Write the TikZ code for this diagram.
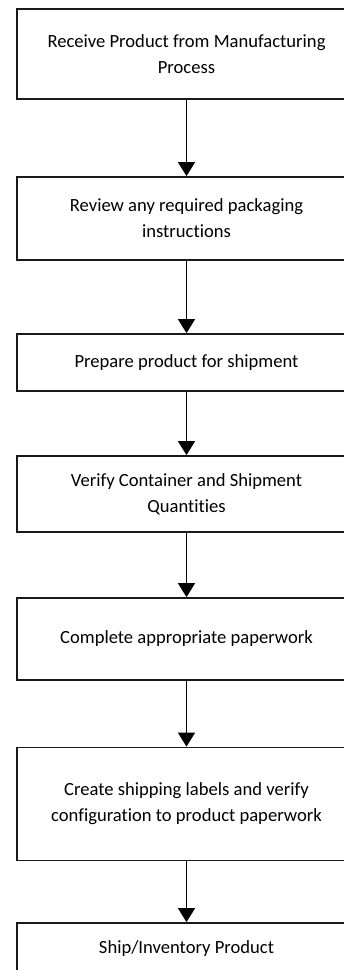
\documentclass[tikz,border=0pt]{standalone}
\usepackage{fontspec}
\setmainfont[Ligatures={NoCommon}]{Carlito}
\usetikzlibrary{arrows.meta}
\begin{document}
\begin{tikzpicture}[x=1pt,y=-1pt,
  stepbox/.style={draw=black!90,line width=1.8pt,rectangle,minimum width=339pt,inner sep=0pt,
    align=center,font=\fontsize{18.6}{26}\selectfont},
  flow/.style={line width=1.6pt,-{Triangle[width=17pt,length=14pt]}}]
\path[use as bounding box,clip] (0,0) rectangle (344,970);
\node[stepbox,minimum height=90pt] (b1) at (186.5,54) {Receive Product from Manufacturing\\Process};
\node[stepbox,minimum height=83pt] (b2) at (186.5,218.5) {Review any required packaging\\instructions};
\node[stepbox,minimum height=57pt] (b3) at (186.5,362.5) {Prepare product for shipment};
\node[stepbox,minimum height=76pt] (b4) at (186.5,494) {Verify Container and Shipment\\Quantities};
\node[stepbox,minimum height=82pt] (b5) at (186.5,639) {Complete appropriate paperwork};
\node[stepbox,minimum height=113pt] (b6) at (186.5,804) {Create shipping labels and verify\\configuration to product paperwork};
\node[stepbox,minimum height=52pt] (b7) at (186.5,949) {Ship/Inventory Product};
\draw[flow] (b1) -- (b2);
\draw[flow] (b2) -- (b3);
\draw[flow] (b3) -- (b4);
\draw[flow] (b4) -- (b5);
\draw[flow] (b5) -- (b6);
\draw[flow] (b6) -- (b7);
\end{tikzpicture}
\end{document}
